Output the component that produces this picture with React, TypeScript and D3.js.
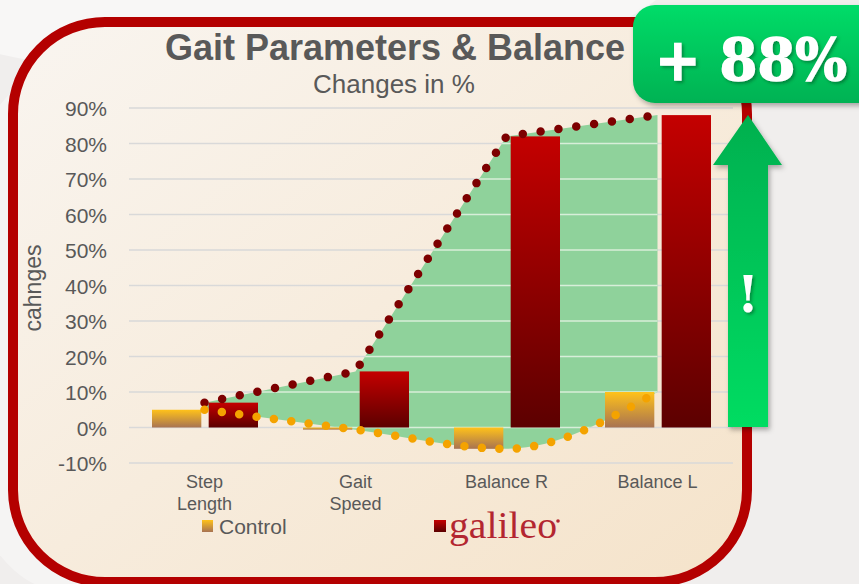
import React from "react";
import * as d3 from "d3";

const categories = ["Step Length", "Gait Speed", "Balance R", "Balance L"];
const categoryLines = [["Step", "Length"], ["Gait", "Speed"], ["Balance R"], ["Balance L"]];
const seriesNames = ["Control", "galileo"];
const controlValues = [5, -0.6, -6, 10];
const galileoValues = [7, 15.8, 82, 88];
const yTicks = [-10, 0, 10, 20, 30, 40, 50, 60, 70, 80, 90];

const W = 859;
const H = 584;
const font = "'Liberation Sans', Arial, sans-serif";

const App = () => {
  const x = d3.scaleBand().domain(categories).range([129, 733]);
  const xSub = d3.scaleBand().domain(seriesNames).range([23, 129]).paddingInner(0.13);
  const y = d3.scaleLinear().domain([-10, 90]).range([463, 108]);
  const cx = (c) => x(c) + x.bandwidth() / 2;

  const upperPts = categories.map((c, i) => [cx(c), y(galileoValues[i])]);
  const lowerPts = categories.map((c, i) => [cx(c), y(controlValues[i])]);

  const upperLine = d3.line().curve(d3.curveLinear);
  const lowerLine = d3.line().curve(d3.curveMonotoneX);
  const upperD = upperLine(upperPts);
  const lowerD = lowerLine(lowerPts);
  const areaD =
    upperD + "L" + lowerLine([...lowerPts].reverse()).slice(1) + "Z";

  return (
    <svg
      width={W}
      height={H}
      style={{ position: "fixed", left: 0, top: 0 }}
      xmlns="http://www.w3.org/2000/svg"
    >
      <defs>
        <linearGradient id="bgIn" x1="0" y1="0" x2="1" y2="1">
          <stop offset="0" stopColor="#f9f5f0" />
          <stop offset="1" stopColor="#f5e3ca" />
        </linearGradient>
        <linearGradient id="gal" x1="0" y1="0" x2="0" y2="1">
          <stop offset="0" stopColor="#c40000" />
          <stop offset="1" stopColor="#5c0000" />
        </linearGradient>
        <linearGradient id="ctl" x1="0" y1="0" x2="0" y2="1">
          <stop offset="0" stopColor="#ffc21a" />
          <stop offset="1" stopColor="#a87352" />
        </linearGradient>
        <linearGradient id="badge" x1="0" y1="0" x2="0" y2="1">
          <stop offset="0" stopColor="#00dc68" />
          <stop offset="1" stopColor="#00b253" />
        </linearGradient>
        <linearGradient id="arrow" x1="0" y1="0" x2="0" y2="1">
          <stop offset="0" stopColor="#00b04f" />
          <stop offset="1" stopColor="#00dc62" />
        </linearGradient>
        <filter id="shadow" x="-20%" y="-20%" width="140%" height="150%">
          <feDropShadow dx="2" dy="3" stdDeviation="2.5" floodColor="#000" floodOpacity="0.3" />
        </filter>
        <filter id="tshadow" x="-20%" y="-20%" width="140%" height="150%">
          <feDropShadow dx="2" dy="2" stdDeviation="1.5" floodColor="#004d20" floodOpacity="0.5" />
        </filter>
        <clipPath id="areaClip">
          <path d={areaD} />
        </clipPath>
      </defs>

      {/* page background */}
      <rect width={W} height={H} fill="#f0eeed" />
      <ellipse cx={260} cy={-40} rx={420} ry={120} fill="#ffffff" opacity={0.5} />
      <ellipse cx={60} cy={330} rx={120} ry={260} fill="#ffffff" opacity={0.35} />

      {/* frame */}
      <rect x={13} y={22} width={734} height={560} rx={92} fill="url(#bgIn)" stroke="#b40000" strokeWidth={10} />

      {/* title */}
      <text x={395} y={60} textAnchor="middle" fontFamily={font} fontWeight="bold" fontSize={36} fill="#595959">
        Gait Parameters &amp; Balance
      </text>
      <text x={394} y={93} textAnchor="middle" fontFamily={font} fontSize={26} fill="#595959">
        Changes in %
      </text>

      {/* grid under area */}
      {yTicks.map((t) => (
        <line key={"g" + t} x1={129} x2={733} y1={y(t)} y2={y(t)} stroke="#d9d9d9" strokeWidth={1.5} />
      ))}

      {/* green band */}
      <path d={areaD} fill="#8fd29b" />
      <g clipPath="url(#areaClip)">
        {yTicks.map((t) => (
          <line key={"w" + t} x1={129} x2={733} y1={y(t)} y2={y(t)} stroke="#d8eed9" strokeWidth={1.5} />
        ))}
      </g>

      {/* y labels */}
      {yTicks.map((t) => (
        <text key={"t" + t} x={107} y={y(t) + 8} textAnchor="end" fontFamily={font} fontSize={21} fill="#595959">
          {t + "%"}
        </text>
      ))}
      <text
        transform="translate(41,288) rotate(-90)"
        textAnchor="middle"
        fontFamily={font}
        fontSize={23}
        fill="#595959"
      >
        cahnges
      </text>

      {/* bars */}
      {categories.map((c, i) => {
        const vals = [controlValues[i], galileoValues[i]];
        return seriesNames.map((s, j) => {
          const v = vals[j];
          const top = Math.min(y(v), y(0));
          const h = Math.max(Math.abs(y(v) - y(0)), 1.5);
          return (
            <rect
              key={c + s}
              x={x(c) + xSub(s)}
              y={top}
              width={xSub.bandwidth()}
              height={h}
              fill={j === 0 ? "url(#ctl)" : "url(#gal)"}
            />
          );
        });
      })}

      {/* dotted curves */}
      <path d={upperD} fill="none" stroke="#7d0000" strokeWidth={8.5} strokeLinecap="round" strokeDasharray="0 18" />
      <path d={lowerD} fill="none" stroke="#f4a300" strokeWidth={8.5} strokeLinecap="round" strokeDasharray="0 17.5" />

      {/* x labels */}
      {categories.map((c, i) =>
        categoryLines[i].map((ln, k) => (
          <text key={c + k} x={cx(c)} y={488 + k * 22} textAnchor="middle" fontFamily={font} fontSize={18} fill="#595959">
            {ln}
          </text>
        ))
      )}

      {/* legend */}
      <rect x={202} y={520} width={11} height={12} fill="url(#ctl)" />
      <text x={219} y={534} fontFamily={font} fontSize={21} fill="#595959">
        {seriesNames[0]}
      </text>
      <rect x={434} y={520} width={12} height={12} fill="url(#gal)" />
      <text x={449} y={538} fontFamily="'Liberation Serif', 'DejaVu Serif', serif" fontSize={38} fill="#b32630" textLength={108} lengthAdjust="spacingAndGlyphs">
        {seriesNames[1]}
      </text>
      <circle cx={558} cy={521} r={1.8} fill="#b32630" />

      {/* arrow */}
      <g filter="url(#shadow)">
        <path d="M728,165 L713,165 L748,115 L782,165 L768,165 L768,427 L728,427 Z" fill="url(#arrow)" />
      </g>
      <text x={748} y={312} textAnchor="middle" fontFamily="'DejaVu Serif', serif" fontWeight="bold" fontSize={50} fill="#ffffff" filter="url(#tshadow)">
        !
      </text>

      {/* badge */}
      <rect x={633} y={5} width={250} height={98} rx={22} fill="url(#badge)" filter="url(#shadow)" />
      <text
        x={655}
        y={80}
        fontFamily="'DejaVu Serif', serif"
        fontWeight="bold"
        fontSize={58}
        fill="#ffffff"
        stroke="#ffffff"
        strokeWidth={1.5}
        textLength={192}
        lengthAdjust="spacingAndGlyphs"
        filter="url(#tshadow)"
      >
        + 88%
      </text>
    </svg>
  );
};

export default App;
